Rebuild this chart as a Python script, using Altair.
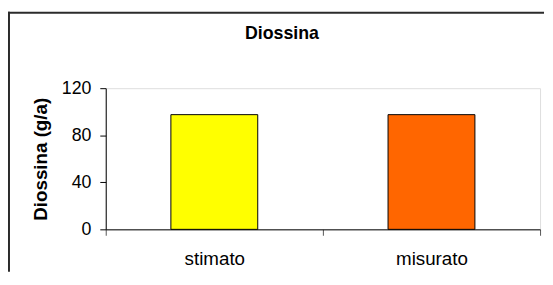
import altair as alt
import pandas as pd

# Data
categories = ["stimato", "misurato"]
values = [97.5, 97.5]
colors = ["#FFFF00", "#FF6600"]

y_ticks = [0, 40, 80, 120]

FONT = "Liberation Sans"

df = pd.DataFrame({"categoria": categories, "valore": values})

bars = alt.Chart(df).mark_bar(
    width=alt.RelativeBandSize(0.4),
    stroke="black",
    strokeWidth=1,
).encode(
    x=alt.X(
        "categoria:N",
        sort=categories,
        scale=alt.Scale(paddingInner=0, paddingOuter=0),
        axis=alt.Axis(
            title=None,
            labelAngle=0,
            tickBand="extent",
            tickSize=6,
            tickColor="#555555",
            domainColor="black",
            labelPadding=30,
            labelBaseline="alphabetic",
            labelFontSize=19,
            labelFont=FONT,
            labelColor="black",
        ),
    ),
    y=alt.Y(
        "valore:Q",
        scale=alt.Scale(domain=[0, 120], nice=False),
        axis=alt.Axis(
            values=y_ticks,
            grid=False,
            title="Diossina (g/a)",
            tickSize=6,
            tickColor="black",
            domainColor="black",
            labelPadding=9,
            labelFontSize=18,
            labelFont=FONT,
            labelColor="black",
            titleFont=FONT,
            titleFontSize=19,
            titleFontWeight="bold",
            titleColor="black",
            titleAngle=270,
            titleAlign="center",
            titleBaseline="alphabetic",
            titleX=-60.4,
            titleY=71.5,
        ),
    ),
    color=alt.Color(
        "categoria:N",
        scale=alt.Scale(domain=categories, range=colors),
        legend=None,
    ),
)

# decorative outer chart border (top and left edges; the rest lies outside the picture)
frame_data = alt.Data(values=[{"k": 1}])

frame_top = alt.Chart(frame_data).mark_rule(
    color="#2b2b2b", strokeWidth=2
).encode(
    x=alt.value(-99),
    x2=alt.value(444),
    y=alt.value(-76.5),
)

frame_left = alt.Chart(frame_data).mark_rule(
    color="#2b2b2b", strokeWidth=2
).encode(
    x=alt.value(-98),
    y=alt.value(-77.5),
    y2=alt.value(186),
)

chart = alt.layer(frame_top, frame_left, bars).properties(
    width=440,
    height=143,
    autosize=alt.AutoSizeParams(type="none"),
    padding={"left": 99, "top": 79.5, "right": 5, "bottom": 43.5},
    title=alt.Title(
        "Diossina",
        font=FONT,
        fontSize=18,
        fontWeight="bold",
        color="black",
        anchor="middle",
        frame="group",
        baseline="alphabetic",
        offset=0,
        dx=-41.5,
        dy=46.5,
    ),
).configure_view(stroke=None).configure(background="white")

chart.save("out.html", embed_options={"renderer": "svg", "actions": False})
